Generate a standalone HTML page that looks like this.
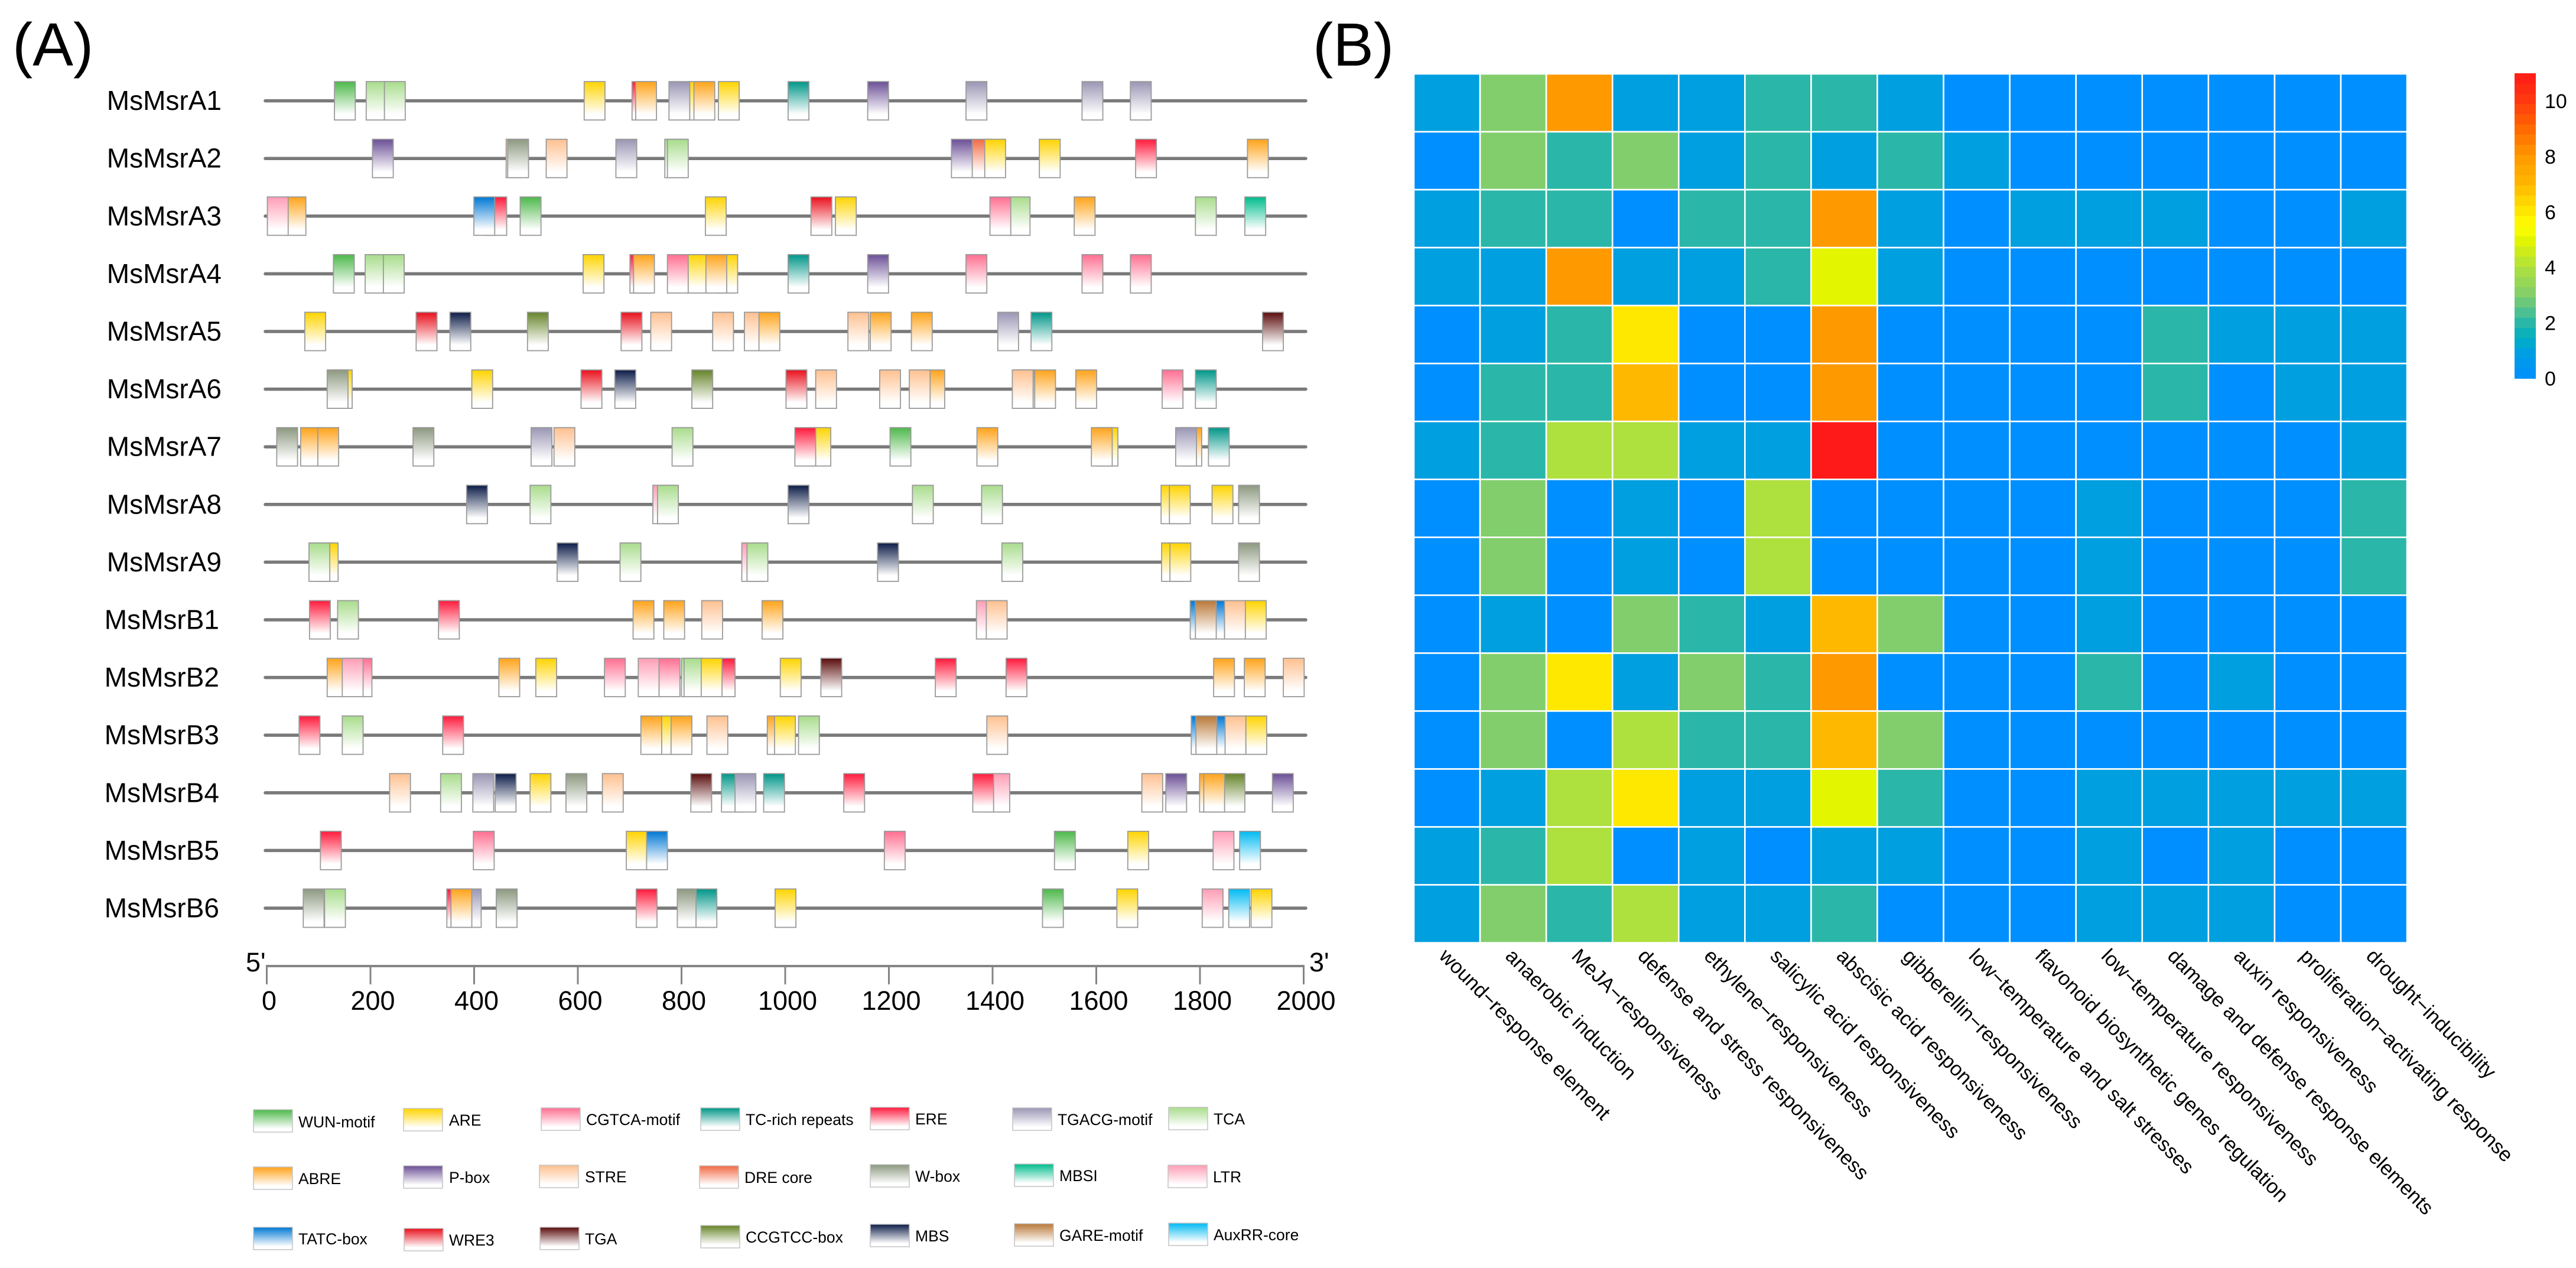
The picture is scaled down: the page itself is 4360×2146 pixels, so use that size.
<!DOCTYPE html>
<html lang="en">
<head>
<meta charset="utf-8">
<title>MsMsr promoter cis-acting elements</title>
<style>
html,body{margin:0;padding:0;background:#fff}
svg{display:block}
text{font-family:"Liberation Sans",Arial,sans-serif;fill:#000}
.lg{font-size:26.5px}
</style>
</head>
<body>
<svg id="figure" xmlns="http://www.w3.org/2000/svg" width="4360" height="2146" viewBox="0 0 4360 2146">
<rect width="4360" height="2146" fill="#fff"/>
<defs id="defs"></defs>
<text x="21" y="111" font-size="103">(A)</text>
<text x="2222" y="111" font-size="103">(B)</text>
<g id="genes"></g>
<g id="axis"></g>
<g id="heatmap"></g>
<g id="colorbar"></g>

<g>
<g><rect x="429" y="1878" width="66" height="38" fill="url(#g-WUN)" stroke="#c4c4c4" stroke-width="1.5"/><text class="lg" x="505" y="1908">WUN-motif</text></g>
<g><rect x="683" y="1876" width="66" height="38" fill="url(#g-ARE)" stroke="#c4c4c4" stroke-width="1.5"/><text class="lg" x="760" y="1905">ARE</text></g>
<g><rect x="916" y="1875" width="66" height="38" fill="url(#g-CGTCA)" stroke="#c4c4c4" stroke-width="1.5"/><text class="lg" x="992" y="1904">CGTCA-motif</text></g>
<g><rect x="1186" y="1875" width="66" height="38" fill="url(#g-TC)" stroke="#c4c4c4" stroke-width="1.5"/><text class="lg" x="1262" y="1904">TC-rich repeats</text></g>
<g><rect x="1473" y="1874" width="66" height="38" fill="url(#g-ERE)" stroke="#c4c4c4" stroke-width="1.5"/><text class="lg" x="1549" y="1903">ERE</text></g>
<g><rect x="1714" y="1875" width="66" height="38" fill="url(#g-TGACG)" stroke="#c4c4c4" stroke-width="1.5"/><text class="lg" x="1790" y="1904">TGACG-motif</text></g>
<g><rect x="1978" y="1874" width="66" height="38" fill="url(#g-TCA)" stroke="#c4c4c4" stroke-width="1.5"/><text class="lg" x="2054" y="1903">TCA</text></g>

<g><rect x="429" y="1975" width="66" height="38" fill="url(#g-ABRE)" stroke="#c4c4c4" stroke-width="1.5"/><text class="lg" x="505" y="2004">ABRE</text></g>
<g><rect x="683" y="1973" width="66" height="38" fill="url(#g-Pbox)" stroke="#c4c4c4" stroke-width="1.5"/><text class="lg" x="760" y="2002">P-box</text></g>
<g><rect x="913" y="1972" width="66" height="38" fill="url(#g-STRE)" stroke="#c4c4c4" stroke-width="1.5"/><text class="lg" x="990" y="2001">STRE</text></g>
<g><rect x="1184" y="1973" width="66" height="38" fill="url(#g-DRE)" stroke="#c4c4c4" stroke-width="1.5"/><text class="lg" x="1260" y="2002">DRE core</text></g>
<g><rect x="1473" y="1971" width="66" height="38" fill="url(#g-Wbox)" stroke="#c4c4c4" stroke-width="1.5"/><text class="lg" x="1549" y="2000">W-box</text></g>
<g><rect x="1717" y="1970" width="66" height="38" fill="url(#g-MBSI)" stroke="#c4c4c4" stroke-width="1.5"/><text class="lg" x="1793" y="1999">MBSI</text></g>
<g><rect x="1977" y="1972" width="66" height="38" fill="url(#g-LTR)" stroke="#c4c4c4" stroke-width="1.5"/><text class="lg" x="2053" y="2001">LTR</text></g>

<g><rect x="429" y="2077" width="66" height="38" fill="url(#g-TATC)" stroke="#c4c4c4" stroke-width="1.5"/><text class="lg" x="505" y="2106">TATC-box</text></g>
<g><rect x="684" y="2079" width="66" height="38" fill="url(#g-WRE3)" stroke="#c4c4c4" stroke-width="1.5"/><text class="lg" x="760" y="2108">WRE3</text></g>
<g><rect x="914" y="2077" width="66" height="38" fill="url(#g-TGA)" stroke="#c4c4c4" stroke-width="1.5"/><text class="lg" x="990" y="2106">TGA</text></g>
<g><rect x="1186" y="2074" width="66" height="38" fill="url(#g-CCGTCC)" stroke="#c4c4c4" stroke-width="1.5"/><text class="lg" x="1262" y="2103">CCGTCC-box</text></g>
<g><rect x="1473" y="2072" width="66" height="38" fill="url(#g-MBS)" stroke="#c4c4c4" stroke-width="1.5"/><text class="lg" x="1549" y="2101">MBS</text></g>
<g><rect x="1717" y="2071" width="66" height="38" fill="url(#g-GARE)" stroke="#c4c4c4" stroke-width="1.5"/><text class="lg" x="1793" y="2100">GARE-motif</text></g>
<g><rect x="1978" y="2070" width="66" height="38" fill="url(#g-AuxRR)" stroke="#c4c4c4" stroke-width="1.5"/><text class="lg" x="2054" y="2099">AuxRR-core</text></g>
</g>
</svg>

<script>
// ---------- Panel A data: motif type and start position (bp), in drawing order ----------
const geneNames = ['MsMsrA1','MsMsrA2','MsMsrA3','MsMsrA4','MsMsrA5','MsMsrA6','MsMsrA7','MsMsrA8','MsMsrA9','MsMsrB1','MsMsrB2','MsMsrB3','MsMsrB4','MsMsrB5','MsMsrB6'];
const motifLength = 40;
const axisTicks = [0,200,400,600,800,1000,1200,1400,1600,1800,2000];
const motifsA1 = [['WUN',133],['TCA',194],['TCA',229],['ARE',613],['ERE',705],['ABRE',712],['TGACG',776],['ARE',816],['ABRE',824],['ARE',871],['TC',1005],['Pbox',1158],['TGACG',1347],['TGACG',1570],['TGACG',1663]];
const motifsA2 = [['Pbox',206],['STRE',463],['Wbox',466],['STRE',540],['TGACG',674],['TCA',768],['TCA',773],['DRE',1359],['ARE',1383],['Pbox',1319],['ARE',1488],['ERE',1673],['ABRE',1888]];
const motifsA3 = [['ABRE',38],['LTR',4],['ERE',424],['TATC',401],['WUN',490],['ARE',846],['WRE3',1049],['ARE',1096],['TCA',1430],['CGTCA',1393],['ABRE',1555],['TCA',1788],['MBSI',1883]];
const motifsA4 = [['WUN',131],['TCA',192],['TCA',227],['ARE',611],['ERE',701],['ABRE',708],['CGTCA',773],['ARE',813],['ARE',868],['ABRE',847],['TC',1005],['Pbox',1158],['CGTCA',1347],['CGTCA',1570],['CGTCA',1663]];
const motifsA5 = [['ARE',76],['WRE3',290],['MBS',355],['CCGTCC',504],['WRE3',684],['STRE',741],['STRE',860],['STRE',921],['ABRE',949],['STRE',1120],['ABRE',1163],['ABRE',1242],['TGACG',1408],['TC',1472],['TGA',1917]];
const motifsA6 = [['ARE',127],['Wbox',119],['ARE',397],['WRE3',607],['MBS',672],['CCGTCC',820],['WRE3',1001],['STRE',1058],['STRE',1181],['ABRE',1266],['STRE',1238],['Wbox',1440],['ABRE',1479],['STRE',1436],['ABRE',1558],['CGTCA',1724],['TC',1788]];
const motifsA7 = [['Wbox',22],['ABRE',68],['ABRE',101],['Wbox',284],['TGACG',511],['STRE',555],['TCA',782],['ARE',1047],['ERE',1018],['WUN',1201],['ABRE',1368],['ARE',1599],['ABRE',1588],['ABRE',1760],['TGACG',1750],['TC',1813]];
const motifsA8 = [['MBS',387],['TCA',509],['LTR',745],['TCA',754],['MBS',1005],['TCA',1244],['TCA',1377],['ARE',1722],['ARE',1738],['ARE',1820],['Wbox',1871]];
const motifsA9 = [['ARE',100],['TCA',84],['MBS',561],['TCA',682],['LTR',916],['TCA',926],['MBS',1177],['TCA',1416],['ARE',1723],['ARE',1739],['Wbox',1871]];
const motifsB1 = [['ERE',85],['TCA',139],['ERE',333],['ABRE',707],['ABRE',766],['STRE',839],['ABRE',955],['LTR',1367],['STRE',1386],['TATC',1778],['TATC',1804],['GARE',1788],['STRE',1844],['ARE',1884]];
const motifsB2 = [['ABRE',119],['CGTCA',165],['LTR',148],['ABRE',449],['ARE',520],['CGTCA',652],['LTR',717],['CGTCA',757],['TCA',800],['TCA',805],['ERE',863],['ARE',838],['ARE',990],['TGA',1068],['ERE',1288],['ERE',1424],['ABRE',1823],['ABRE',1882],['STRE',1957]];
const motifsB3 = [['ERE',65],['TCA',148],['ERE',341],['ABRE',722],['ARE',762],['ABRE',780],['STRE',849],['ABRE',965],['ARE',979],['TCA',1025],['STRE',1387],['TATC',1780],['TATC',1806],['GARE',1789],['STRE',1845],['ARE',1885]];
const motifsB4 = [['STRE',239],['TCA',337],['TGACG',399],['MBS',442],['ARE',509],['Wbox',578],['STRE',648],['TGA',818],['TC',877],['TGACG',903],['TC',958],['ERE',1112],['LTR',1391],['ERE',1360],['STRE',1685],['Pbox',1731],['ABRE',1796],['CCGTCC',1843],['ABRE',1804],['Pbox',1936]];
const motifsB5 = [['ERE',106],['CGTCA',400],['ARE',694],['TATC',733],['CGTCA',1190],['WUN',1517],['ARE',1658],['LTR',1822],['AuxRR',1873]];
const motifsB6 = [['Wbox',73],['TCA',114],['ERE',349],['TGACG',375],['ABRE',357],['Wbox',444],['ERE',713],['Wbox',792],['TC',828],['ARE',980],['WUN',1494],['ARE',1637],['LTR',1801],['AuxRR',1852],['ARE',1895]];
const geneMotifs = [motifsA1,motifsA2,motifsA3,motifsA4,motifsA5,motifsA6,motifsA7,motifsA8,motifsA9,motifsB1,motifsB2,motifsB3,motifsB4,motifsB5,motifsB6];

// ---------- Panel B data ----------
const heatColumns = ['wound\u2212response element','anaerobic induction','MeJA\u2212responsiveness','defense and stress responsiveness','ethylene\u2212responsiveness','salicylic acid responsiveness','abscisic acid responsiveness','gibberellin\u2212responsiveness','low\u2212temperature and salt stresses','flavonoid biosynthetic genes regulation','low\u2212temperature responsiveness','damage and defense response elements','auxin responsiveness','proliferation\u2212activating response','drought\u2212inducibility'];
const countsA1 = [1,3,8,1,1,2,2,1,0,0,0,0,0,0,0];
const countsA2 = [0,3,2,3,1,2,1,2,1,0,0,0,0,0,0];
const countsA3 = [1,2,2,0,2,2,8,1,0,1,1,1,0,0,1];
const countsA4 = [1,1,8,1,1,2,5,1,0,0,0,0,0,0,0];
const countsA5 = [0,1,2,6,0,0,8,0,0,0,0,2,1,1,1];
const countsA6 = [0,2,2,7,0,0,8,0,0,0,0,2,0,1,1];
const countsA7 = [1,2,4,4,1,1,11,0,0,0,0,0,0,0,1];
const countsA8 = [0,3,0,1,0,4,0,0,0,0,1,0,0,0,2];
const countsA9 = [0,3,0,1,0,4,0,0,0,0,1,0,0,0,2];
const countsB1 = [0,1,0,3,2,1,7,3,0,0,1,0,0,0,0];
const countsB2 = [0,3,6,1,3,2,8,0,0,0,2,0,1,0,0];
const countsB3 = [0,3,0,4,2,2,7,3,0,0,0,0,0,0,0];
const countsB4 = [0,1,4,6,1,1,5,2,0,0,1,1,1,1,1];
const countsB5 = [1,2,4,0,1,0,1,1,0,0,1,0,1,0,0];
const countsB6 = [1,3,2,4,1,1,2,0,0,0,1,1,1,0,0];
const heatRows = [countsA1,countsA2,countsA3,countsA4,countsA5,countsA6,countsA7,countsA8,countsA9,countsB1,countsB2,countsB3,countsB4,countsB5,countsB6];
const colorbarTicks = [0,2,4,6,8,10];
const colorbarMax = 11;

// ---------- Styles ----------
const motifColors = {WUN:'#4db84a',ARE:'#ffd400',CGTCA:'#ff6f91',TC:'#009688',ERE:'#ff1a3c',TGACG:'#9a96b4',TCA:'#a8dc8c',ABRE:'#ffa31a',Pbox:'#6b4f96',STRE:'#ffc08f',DRE:'#f26a45',Wbox:'#8c9880',MBSI:'#00bc8c',LTR:'#ff9db5',TATC:'#0078d4',WRE3:'#e8101c',TGA:'#5a0c0c',CCGTCC:'#66842a',MBS:'#0c1c48',GARE:'#b87838',AuxRR:'#00baf2'};
const rampValues = [0,1,1.5,2,3,4,5,5.5,6,7,8,9,10,11];
const rampColors = ['#008fff','#009fe0','#00b0c0','#2ab7a9','#82ce6c','#aee03e','#e4f500','#ffff00','#ffe800','#ffb800','#ff9900','#ff6a00','#ff3a10','#ff1a1a'];

const NS = 'http://www.w3.org/2000/svg';
function make(tag, parent, props, content) {
  const el = document.createElementNS(NS, tag);
  for (const k in props) el.setAttribute(k, props[k]);
  if (content !== undefined) el.textContent = content;
  parent.appendChild(el);
  return el;
}
function hexToRgb(h) { return [1,3,5].map(i => parseInt(h.substr(i,2),16)); }
function valueColor(v) {
  const t = Math.max(0, Math.min(colorbarMax, v));
  let i = 0;
  while (i < rampValues.length - 2 && t > rampValues[i+1]) i++;
  const f = (t - rampValues[i]) / (rampValues[i+1] - rampValues[i]);
  const a = hexToRgb(rampColors[i]), b = hexToRgb(rampColors[i+1]);
  const c = a.map((x,j) => Math.round(x + (b[j]-x)*f));
  return 'rgb(' + c.join(',') + ')';
}

// Gradients
const defs = document.getElementById('defs');
for (const key in motifColors) {
  const g = make('linearGradient', defs, {id:'g-'+key, x1:0, y1:0, x2:0, y2:1});
  make('stop', g, {offset:'0%', 'stop-color':motifColors[key]});
  make('stop', g, {offset:'85%', 'stop-color':'#ffffff'});
}

// ---------- Panel A ----------
const genesLayer = document.getElementById('genes');
const xMark = bp => 449 + 0.8805 * bp;
const xAxis = bp => 451.5 + 0.8775 * bp;
const yGene = i => 170.6 + 97.6 * i;
const boxH = 65;

geneNames.forEach((name, i) => {
  const y = yGene(i);
  const label = make('text', genesLayer, {x: name.startsWith('MsMsrB') ? 371 : 375, y: y + 15.5, 'font-size': 46, 'text-anchor':'end'}, name);
  
  
  const line = make('line', genesLayer, {x1: xMark(0), y1: y, x2: xMark(2000), y2: y, stroke:'#7a7a7a', 'stroke-width':5.5, 'stroke-linecap':'round'});
  
  
  geneMotifs[i].forEach(m => {
    const x0 = xMark(m[1]);
    const x1 = xMark(m[1] + motifLength);
    const box = make('rect', genesLayer, {x: x0, y: y - boxH/2, width: x1 - x0, height: boxH, fill:'url(#g-' + m[0] + ')', stroke:'#9a9a9a', 'stroke-width':1.8});
    
    
  });
});

// Axis
const axisLayer = document.getElementById('axis');
const axisLine = make('line', axisLayer, {x1: xAxis(0)-1.5, y1: 1635, x2: xAxis(2000)+1.5, y2: 1635, stroke:'#858585', 'stroke-width':4});


axisTicks.forEach(t => {
  const tick = make('line', axisLayer, {x1: xAxis(t), y1: 1635, x2: xAxis(t), y2: 1666, stroke:'#858585', 'stroke-width':3});
  
  
  const lab = make('text', axisLayer, {x: xAxis(t) + 4, y: 1709, 'font-size':45, 'text-anchor':'middle'}, String(t));
  
  
});
const fivePrime = make('text', axisLayer, {x: 416, y: 1644, 'font-size':45}, "5'");


const threePrime = make('text', axisLayer, {x: 2216, y: 1644, 'font-size':45}, "3'");



// ---------- Panel B ----------
const heatLayer = document.getElementById('heatmap');
const cellW = 112.07, cellH = 98.04;
const xCell = c => 2393 + c * cellW;
const yCell = r => 125 + r * cellH;
heatRows.forEach((row, r) => {
  row.forEach((v, c) => {
    const cell = make('rect', heatLayer, {x: xCell(c), y: yCell(r), width: cellW, height: cellH, fill: valueColor(v), stroke:'#ffffff', 'stroke-width':2.6});
    
    
  });
});
heatColumns.forEach((name, c) => {
  const px = xCell(c) + 41, py = 1620;
  const lab = make('text', heatLayer, {x: px, y: py, 'font-size':34.2, transform:'rotate(45 ' + px + ' ' + py + ')'}, name);
  
  
});

// Colorbar
const cbLayer = document.getElementById('colorbar');
const yBar = v => 640.5 - v * (640.5 - 124) / colorbarMax;
const bands = 30;
for (let b = 0; b < bands; b++) {
  const v0 = colorbarMax * b / bands, v1 = colorbarMax * (b + 1) / bands;
  const band = make('rect', cbLayer, {x: 4256, y: yBar(v1), width: 36, height: yBar(v0) - yBar(v1) + 0.5, fill: valueColor((v0 + v1) / 2)});
  
  
}
colorbarTicks.forEach(t => {
  const lab = make('text', cbLayer, {x: 4307, y: yBar(t) + 12, 'font-size':34}, String(t));
  
  
});
</script>
</body>
</html>
